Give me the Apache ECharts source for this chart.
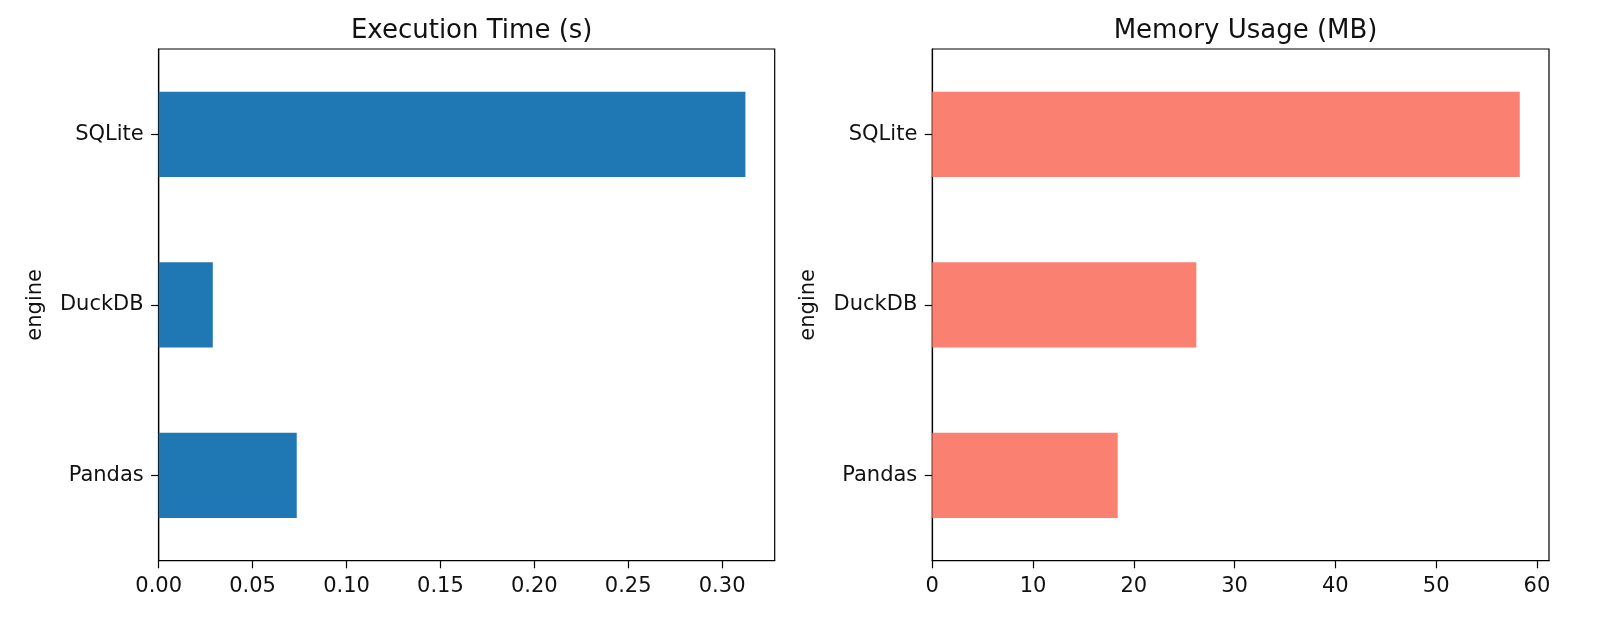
<!DOCTYPE html>
<html>
<head>
<meta charset="utf-8">
<script src="https://cdn.jsdelivr.net/npm/echarts@6/dist/echarts.min.js"></script>
<style>html,body{margin:0;padding:0;background:#fff}#c{width:1600px;height:617px}</style>
</head>
<body>
<div id="c"></div>
<script>
const categories = ['Pandas', 'DuckDB', 'SQLite'];
const execTime = [0.0735, 0.0288, 0.3124];
const memoryMB = [18.4, 26.2, 58.3];
const titles = ['Execution Time (s)', 'Memory Usage (MB)'];
const yName = 'engine';

const FONT = 'DejaVu Sans';
const LBL = 21;
const chart = echarts.init(document.getElementById('c'), null, {renderer: 'canvas'});

function xAxis(idx, max, interval, fmt) {
  return {
    type: 'value', gridIndex: idx, min: 0, max: max, interval: interval,
    axisLine: {show: true, onZero: false, lineStyle: {color: '#000', width: 1.2}},
    axisTick: {show: true, length: 7.6, lineStyle: {color: '#000', width: 1.2}},
    axisLabel: {show: true, margin: 15, color: '#111', fontFamily: FONT, fontSize: LBL,
      showMaxLabel: false, formatter: fmt},
    splitLine: {show: false}
  };
}
function yAxis(idx) {
  return {
    type: 'category', gridIndex: idx, data: categories,
    name: yName, nameLocation: 'middle', nameRotate: 90, nameGap: 113,
    nameTextStyle: {color: '#111', fontFamily: FONT, fontSize: LBL},
    axisLine: {show: true, lineStyle: {color: '#000', width: 1.2}},
    axisTick: {show: true, alignWithLabel: true, length: 7.6, lineStyle: {color: '#000', width: 1.2}},
    axisLabel: {margin: 15, color: '#111', fontFamily: FONT, fontSize: LBL},
    splitLine: {show: false}
  };
}

chart.setOption({
  animation: false,
  backgroundColor: '#fff',
  title: [
    {text: titles[0], left: 466.7, top: 13, textAlign: 'center',
     textStyle: {fontFamily: FONT, fontSize: 26, fontWeight: 'normal', color: '#111'}},
    {text: titles[1], left: 1240.6, top: 13, textAlign: 'center',
     textStyle: {fontFamily: FONT, fontSize: 26, fontWeight: 'normal', color: '#111'}}
  ],
  grid: [
    {left: 158.7, right: 825.3, top: 49, bottom: 56.3, show: true, borderColor: '#000', borderWidth: 1.2, backgroundColor: 'transparent'},
    {left: 932.3, right: 51, top: 49, bottom: 56.3, show: true, borderColor: '#000', borderWidth: 1.2, backgroundColor: 'transparent'}
  ],
  xAxis: [
    xAxis(0, 0.328, 0.05, v => v.toFixed(2)),
    xAxis(1, 61.2, 10, v => String(Math.round(v)))
  ],
  yAxis: [yAxis(0), yAxis(1)],
  series: [
    {type: 'bar', xAxisIndex: 0, yAxisIndex: 0, data: execTime, barWidth: '50%',
     itemStyle: {color: '#1f77b4'}},
    {type: 'bar', xAxisIndex: 1, yAxisIndex: 1, data: memoryMB, barWidth: '50%',
     itemStyle: {color: '#fa8072'}}
  ]
});
</script>
</body>
</html>
